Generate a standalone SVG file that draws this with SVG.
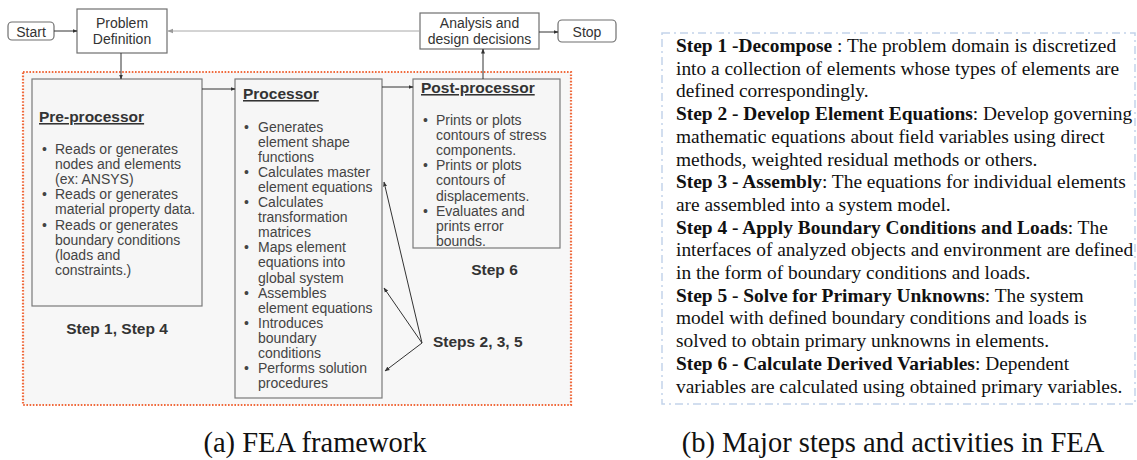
<svg xmlns="http://www.w3.org/2000/svg" width="1137" height="460" viewBox="0 0 1137 460">
  <defs>
    <marker id="arr" viewBox="0 0 10 10" refX="9" refY="5" markerWidth="5" markerHeight="5" orient="auto-start-reverse" markerUnits="userSpaceOnUse">
      <path d="M0,1 L10,5 L0,9 z" fill="#333"/>
    </marker>
    <marker id="arrGray" viewBox="0 0 10 10" refX="9" refY="5" markerWidth="6" markerHeight="6" orient="auto-start-reverse" markerUnits="userSpaceOnUse">
      <path d="M0,1 L10,5 L0,9 z" fill="#9a9a9a"/>
    </marker>
    <style>
      .box { fill: #ffffff; stroke: #6f6f6f; stroke-width: 1.2; }
      .panel { fill: #f6f6f6; stroke: #7a7a7a; stroke-width: 1.2; }
      .lbl { font-family: "Liberation Sans", Arial, sans-serif; font-size: 14px; fill: #333; }
      .head { font-family: "Liberation Sans", Arial, sans-serif; font-size: 15.5px; font-weight: bold; fill: #333; text-decoration: underline; }
      .body { font-family: "Liberation Sans", Arial, sans-serif; font-size: 14px; fill: #444; }
      .step { font-family: "Liberation Sans", Arial, sans-serif; font-size: 15.5px; font-weight: bold; fill: #333; }
      .conn { stroke: #333; stroke-width: 1; fill: none; }
      .desc { font-family: "Liberation Serif", "Times New Roman", serif; font-size: 19.4px; fill: #111; }
      .desc .b { font-weight: bold; }
      .cap { font-family: "Liberation Serif", "Times New Roman", serif; font-size: 28.5px; fill: #111; }
    </style>
  </defs>

  <rect width="1137" height="460" fill="#ffffff"/>

  <!-- dotted frame around the three processing stages -->
  <rect id="stage-frame" x="23" y="72" width="548" height="333" fill="#f7f7f7" stroke="#f06a3c" stroke-width="2.2" stroke-dasharray="1.6 1.6"/>

  <g id="start">
    <rect class="box" x="8" y="22" width="46" height="18" rx="4"/>
    <text class="lbl" x="31" y="37" text-anchor="middle">Start</text>
  </g>

  <g id="problem-definition">
    <rect class="box" x="77" y="9" width="90" height="44"/>
    <text class="lbl" x="122" y="28" text-anchor="middle">Problem</text>
    <text class="lbl" x="122" y="43.5" text-anchor="middle">Definition</text>
  </g>

  <g id="analysis">
    <rect class="box" x="420" y="13" width="119" height="36"/>
    <text class="lbl" x="479.5" y="28" text-anchor="middle">Analysis and</text>
    <text class="lbl" x="479.5" y="43.5" text-anchor="middle">design decisions</text>
  </g>

  <g id="stop">
    <rect class="box" x="558" y="20" width="58" height="22" rx="4"/>
    <text class="lbl" x="587" y="37" text-anchor="middle">Stop</text>
  </g>

  <g id="pre-processor">
    <rect class="panel" x="32" y="79" width="170" height="227"/>
    <text class="head" x="39" y="122">Pre-processor</text>
    <g class="body">
      <text x="42" y="153.5">•</text>
      <text x="55" y="153.5">Reads or generates</text>
      <text x="55" y="168.7">nodes and elements</text>
      <text x="55" y="183.9">(ex: ANSYS)</text>
      <text x="42" y="199.1">•</text>
      <text x="55" y="199.1">Reads or generates</text>
      <text x="55" y="214.3">material property data.</text>
      <text x="42" y="229.5">•</text>
      <text x="55" y="229.5">Reads or generates</text>
      <text x="55" y="244.7">boundary conditions</text>
      <text x="55" y="259.9">(loads and</text>
      <text x="55" y="275.1">constraints.)</text>
    </g>
  </g>

  <g id="processor">
    <rect class="panel" x="235" y="79" width="147" height="319"/>
    <text class="head" x="243" y="99">Processor</text>
    <g class="body">
      <text x="244" y="131.5">•</text>
      <text x="258" y="131.5">Generates</text>
      <text x="258" y="146.6">element shape</text>
      <text x="258" y="161.7">functions</text>
      <text x="244" y="176.8">•</text>
      <text x="258" y="176.8">Calculates master</text>
      <text x="258" y="191.9">element equations</text>
      <text x="244" y="207">•</text>
      <text x="258" y="207">Calculates</text>
      <text x="258" y="222.1">transformation</text>
      <text x="258" y="237.2">matrices</text>
      <text x="244" y="252.3">•</text>
      <text x="258" y="252.3">Maps element</text>
      <text x="258" y="267.4">equations into</text>
      <text x="258" y="282.5">global system</text>
      <text x="244" y="297.6">•</text>
      <text x="258" y="297.6">Assembles</text>
      <text x="258" y="312.7">element equations</text>
      <text x="244" y="327.8">•</text>
      <text x="258" y="327.8">Introduces</text>
      <text x="258" y="342.9">boundary</text>
      <text x="258" y="358">conditions</text>
      <text x="244" y="373.1">•</text>
      <text x="258" y="373.1">Performs solution</text>
      <text x="258" y="388.2">procedures</text>
    </g>
  </g>

  <g id="post-processor">
    <rect class="panel" x="413" y="79" width="147" height="169"/>
    <text class="head" x="421" y="93">Post-processor</text>
    <g class="body">
      <text x="423" y="124.5">•</text>
      <text x="436" y="124.5">Prints or plots</text>
      <text x="436" y="139.7">contours of stress</text>
      <text x="436" y="154.9">components.</text>
      <text x="423" y="170.1">•</text>
      <text x="436" y="170.1">Prints or plots</text>
      <text x="436" y="185.3">contours of</text>
      <text x="436" y="200.5">displacements.</text>
      <text x="423" y="215.7">•</text>
      <text x="436" y="215.7">Evaluates and</text>
      <text x="436" y="230.9">prints error</text>
      <text x="436" y="246.1">bounds.</text>
    </g>
  </g>

  <g id="step-labels">
    <text class="step" x="117" y="334" text-anchor="middle">Step 1, Step 4</text>
    <text class="step" x="494.5" y="275" text-anchor="middle">Step 6</text>
    <text class="step" x="433" y="347">Steps 2, 3, 5</text>
  </g>

  <g id="connectors">
    <line class="conn" x1="54" y1="31" x2="77" y2="31" marker-end="url(#arr)"/>
    <line x1="420" y1="31" x2="168" y2="31" stroke="#a8a8a8" stroke-width="1" marker-end="url(#arrGray)"/>
    <line class="conn" x1="121" y1="53" x2="121" y2="79" marker-end="url(#arr)"/>
    <line class="conn" x1="202" y1="89" x2="235" y2="89" marker-end="url(#arr)"/>
    <line class="conn" x1="382" y1="87" x2="413" y2="87" marker-end="url(#arr)"/>
    <line class="conn" x1="483" y1="79" x2="483" y2="49" marker-end="url(#arr)"/>
    <line class="conn" x1="539" y1="32" x2="558" y2="32" marker-end="url(#arr)"/>
    <line class="conn" x1="422" y1="343" x2="384" y2="182" marker-end="url(#arr)"/>
    <line class="conn" x1="422" y1="343" x2="384" y2="288" marker-end="url(#arr)"/>
    <line class="conn" x1="422" y1="343" x2="385" y2="371" marker-end="url(#arr)"/>
  </g>

  <!-- step descriptions -->
  <g id="step-descriptions">
    <rect x="662" y="33" width="473" height="371" fill="none" stroke="#c3d4ea" stroke-width="1.5" stroke-dasharray="8 4 2 4"/>
    <text class="desc" x="676" y="52"><tspan class="b">Step 1 -Decompose</tspan> : The problem domain is discretized</text>
    <text class="desc" x="676" y="74.7">into a collection of elements whose types of elements are</text>
    <text class="desc" x="676" y="97.4">defined correspondingly.</text>
    <text class="desc" x="676" y="120.1"><tspan class="b">Step 2 - Develop Element Equations</tspan>: Develop governing</text>
    <text class="desc" x="676" y="142.8">mathematic equations about field variables using direct</text>
    <text class="desc" x="676" y="165.5">methods, weighted residual methods or others.</text>
    <text class="desc" x="676" y="188.2"><tspan class="b">Step 3 - Assembly</tspan>: The equations for individual elements</text>
    <text class="desc" x="676" y="210.9">are assembled into a system model.</text>
    <text class="desc" x="676" y="233.6"><tspan class="b">Step 4 - Apply Boundary Conditions and Loads</tspan>: The</text>
    <text class="desc" x="676" y="256.3">interfaces of analyzed objects and environment are defined</text>
    <text class="desc" x="676" y="279">in the form of boundary conditions and loads.</text>
    <text class="desc" x="676" y="301.7"><tspan class="b">Step 5 - Solve for Primary Unknowns</tspan>: The system</text>
    <text class="desc" x="676" y="324.4">model with defined boundary conditions and loads is</text>
    <text class="desc" x="676" y="347.1">solved to obtain primary unknowns in elements.</text>
    <text class="desc" x="676" y="369.8"><tspan class="b">Step 6 - Calculate Derived Variables</tspan>: Dependent</text>
    <text class="desc" x="676" y="392.5">variables are calculated using obtained primary variables.</text>
  </g>

  <g id="captions">
    <text class="cap" x="315" y="452" text-anchor="middle">(a) FEA framework</text>
    <text class="cap" x="893" y="452" text-anchor="middle">(b) Major steps and activities in FEA</text>
  </g>
</svg>
